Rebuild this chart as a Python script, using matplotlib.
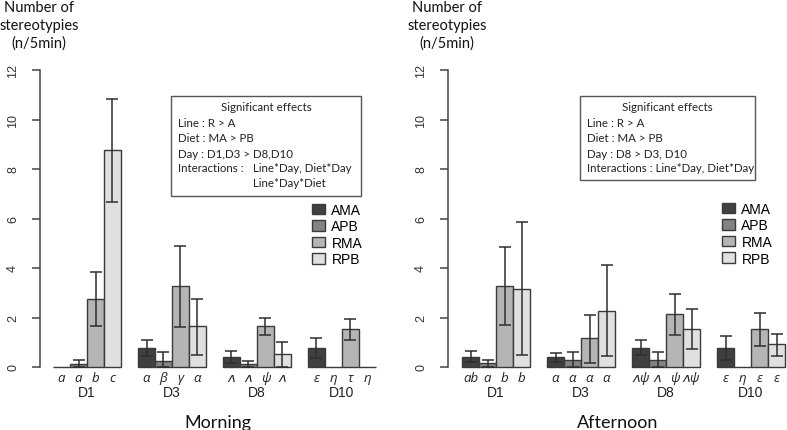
import numpy as np
import matplotlib.pyplot as plt
from matplotlib.patches import Patch, Rectangle

days = ['D1', 'D3', 'D8', 'D10']
groups = ['AMA', 'APB', 'RMA', 'RPB']
colors = ['#404040', '#838383', '#b5b5b5', '#e0e0e0']
nan = np.nan

# Morning: bar heights and error bar ends (rows = group, cols = day)
morning_mean = [[0, 0.77, 0.40, 0.77],
                [0.13, 0.24, 0.13, 0],
                [2.76, 3.27, 1.66, 1.52],
                [8.76, 1.66, 0.51, 0]]
morning_lo = [[nan, 0.46, 0.18, 0.36],
              [0, 0, 0, nan],
              [1.67, 1.62, 1.28, 1.08],
              [6.67, 0.50, 0, nan]]
morning_hi = [[nan, 1.08, 0.63, 1.17],
              [0.27, 0.61, 0.24, nan],
              [3.84, 4.88, 2.00, 1.94],
              [10.82, 2.76, 1.01, nan]]
morning_letters = [['a', 'a', 'b', 'c'], ['α', 'β', 'γ', 'α'],
                   ['ʌ', 'ʌ', 'ψ', 'ʌ'], ['ε', 'η', 'τ', 'η']]
morning_box = ['Line : R > A', 'Diet : MA > PB', 'Day : D1,D3 > D8,D10',
               'Interactions :  ', 'Line*Day, Diet*Day', 'Line*Day*Diet']

# Afternoon
afternoon_mean = [[0.40, 0.40, 0.77, 0.77],
                  [0.16, 0.27, 0.27, 0],
                  [3.27, 1.17, 2.13, 1.54],
                  [3.17, 2.26, 1.55, 0.92]]
afternoon_lo = [[0.20, 0.20, 0.47, 0.30],
                [0, 0, 0, nan],
                [1.68, 0.18, 1.31, 0.85],
                [0.47, 0.44, 0.71, 0.44]]
afternoon_hi = [[0.65, 0.58, 1.08, 1.24],
                [0.27, 0.61, 0.61, nan],
                [4.85, 2.12, 2.96, 2.20],
                [5.84, 4.14, 2.33, 1.35]]
afternoon_letters = [['ab', 'a', 'b', 'b'], ['α', 'α', 'α', 'α'],
                     ['ʌψ', 'ʌ', 'ψ', 'ʌψ'], ['ε', 'η', 'ε', 'ε']]
afternoon_box = ['Line : R > A', 'Diet : MA > PB', 'Day : D8 > D3, D10',
                 'Interactions : Line*Day, Diet*Day']

W, H = 787, 431
SANS = ['Liberation Sans', 'DejaVu Sans']
CAL = ['Lato', 'DejaVu Sans']


def fx(x):
    return x / W


def fy(y):
    return 1 - y / H


def draw_panel(ax, mean, lo, hi, letters, title):
    for d in range(4):
        for g in range(4):
            x = d * 5 + g + 0.5
            ax.bar(x, mean[g][d], width=1, color=colors[g], edgecolor='#3a3a3a',
                   linewidth=1.0, clip_on=False, zorder=2)
            if not np.isnan(lo[g][d]):
                ax.errorbar(x, mean[g][d],
                            yerr=[[mean[g][d] - lo[g][d]], [hi[g][d] - mean[g][d]]],
                            fmt='none', ecolor='#2e2e2e', elinewidth=1.1,
                            capsize=4.5, capthick=1.1, clip_on=False, zorder=3)
            ax.text(x, -0.037, letters[d][g], transform=ax.get_xaxis_transform(),
                    ha='center', va='center', fontsize=9.5, style='italic',
                    family=['Open Sans', 'DejaVu Sans'], color='#222222')
        ax.text(d * 5 + 2, -0.085, days[d], transform=ax.get_xaxis_transform(),
                ha='center', va='center', fontsize=10, family=SANS, color='#222222')
    ax.text(0.5, -0.185, title, transform=ax.transAxes, ha='center', va='center',
            fontsize=13, family=CAL, color='#111111')

    ax.set_ylim(0, 12)
    ax.set_yticks(np.arange(0, 13, 2))
    ax.set_xticks([])
    for s in ['top', 'right', 'bottom']:
        ax.spines[s].set_visible(False)
    ax.spines['left'].set_color('#444444')
    ax.spines['left'].set_linewidth(1.1)
    ax.tick_params(axis='y', length=6, width=1.1, color='#444444', pad=9,
                   labelsize=9, labelcolor='#333333', labelrotation=90)
    for lab in ax.get_yticklabels():
        lab.set_va('center')
        lab.set_family(SANS)
    ax.patch.set_visible(False)


fig = plt.figure(figsize=(W / 100, H / 100), dpi=100)

ax1 = fig.add_axes([fx(40), fy(368), fx(395) - fx(40), fy(71) - fy(368)])
ax1.set_xlim(-13 / 17, (395 - 53) / 17)
draw_panel(ax1, morning_mean, morning_lo, morning_hi, morning_letters, 'Morning')

ax2 = fig.add_axes([fx(448), fy(368), fx(787) - fx(448), fy(71) - fy(368)])
ax2.set_xlim(-14 / 17, (787 - 462) / 17)
draw_panel(ax2, afternoon_mean, afternoon_lo, afternoon_hi, afternoon_letters, 'Afternoon')

# y titles
for xc in [39, 447]:
    fig.text(fx(xc), fy(26), 'Number of\nstereotypies\n(n/5min)', ha='center', va='center',
             fontsize=10.5, family=CAL, color='#111111', linespacing=1.3)

# boxes of significant effects
fig.add_artist(Rectangle((fx(171), fy(197)), fx(361) - fx(171), fy(97) - fy(197),
                         transform=fig.transFigure, fill=False, edgecolor='#555555', lw=1))
fig.text(fx(266), fy(108), 'Significant effects', ha='center', va='center',
         fontsize=8.3, family=CAL, color='#222222')
for i, line in enumerate(morning_box[:4]):
    fig.text(fx(178), fy(124 + 15 * i), line, ha='left', va='center',
             fontsize=8.3, family=CAL, color='#222222')
fig.text(fx(253), fy(169), morning_box[4], ha='left', va='center',
         fontsize=8.3, family=CAL, color='#222222')
fig.text(fx(253), fy(184), morning_box[5], ha='left', va='center',
         fontsize=8.3, family=CAL, color='#222222')

fig.add_artist(Rectangle((fx(580), fy(181)), fx(755) - fx(580), fy(97) - fy(181),
                         transform=fig.transFigure, fill=False, edgecolor='#555555', lw=1))
fig.text(fx(667), fy(108), 'Significant effects', ha='center', va='center',
         fontsize=8.3, family=CAL, color='#222222')
for i, line in enumerate(afternoon_box):
    fig.text(fx(587), fy(124 + 15 * i), line, ha='left', va='center',
             fontsize=8.3, family=CAL, color='#222222')

# legends
handles = [Patch(facecolor=c, edgecolor='#3a3a3a', linewidth=1) for c in colors]
for ax, x0, y0 in [(ax1, 312, 204), (ax2, 722, 203)]:
    ax.legend(handles, groups, loc='upper left', bbox_to_anchor=(fx(x0), fy(y0)),
              bbox_transform=fig.transFigure, frameon=False, borderpad=0,
              borderaxespad=0, handlelength=0.95, handleheight=0.8,
              handletextpad=0.45, labelspacing=0.18,
              prop={'family': SANS, 'size': 10})

fig.savefig('out.png', dpi=100)
